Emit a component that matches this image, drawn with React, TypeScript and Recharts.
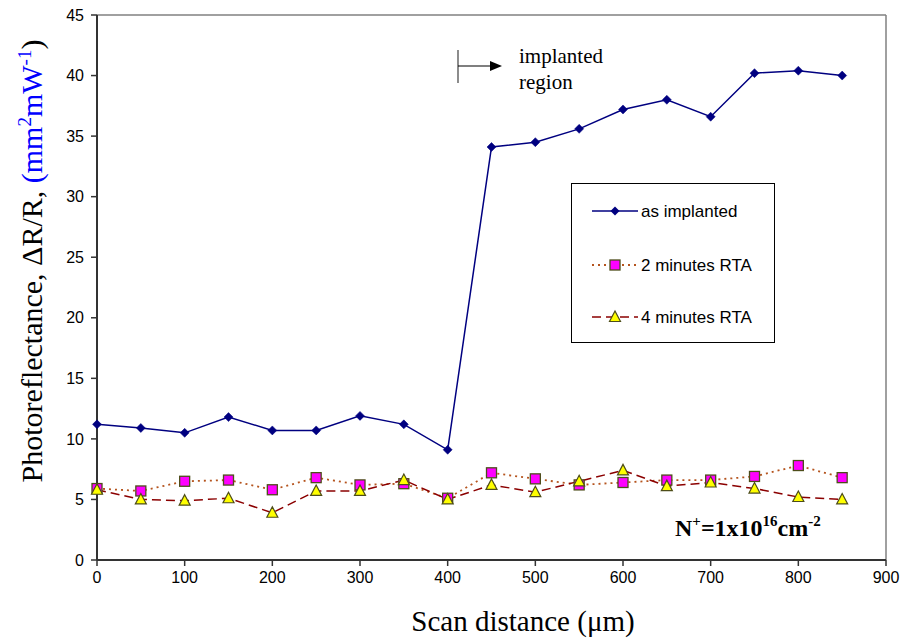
import React from 'react';
import { LineChart, Line, XAxis, YAxis, Legend, ReferenceLine, Customized } from 'recharts';

const scanDistance = [0, 50, 100, 150, 200, 250, 300, 350, 400, 450, 500, 550, 600, 650, 700, 750, 800, 850];
const asImplanted = [11.2, 10.9, 10.5, 11.8, 10.7, 10.7, 11.9, 11.2, 9.1, 34.1, 34.5, 35.6, 37.2, 38.0, 36.6, 40.2, 40.4, 40.0];
const rta2min = [5.9, 5.7, 6.5, 6.6, 5.8, 6.8, 6.2, 6.3, 5.1, 7.2, 6.7, 6.2, 6.4, 6.6, 6.6, 6.9, 7.8, 6.8];
const rta4min = [5.8, 5.0, 4.9, 5.1, 3.9, 5.7, 5.7, 6.6, 5.0, 6.2, 5.6, 6.5, 7.4, 6.1, 6.4, 5.9, 5.2, 5.0];
const seriesNames = ['as implanted', '2 minutes RTA', '4 minutes RTA'];
const xTicks = [0, 100, 200, 300, 400, 500, 600, 700, 800, 900];
const yTicks = [0, 5, 10, 15, 20, 25, 30, 35, 40, 45];

const data = scanDistance.map((x, i) => ({ x, a: asImplanted[i], b: rta2min[i], c: rta4min[i] }));

const NAVY = '#000080';
const DOT_STROKE = '#4D4D1A';
const C2 = '#B5541E';
const C4 = '#8B0000';
const SERIF = 'Liberation Serif, Times New Roman, serif';

const diamondPath = (cx: number, cy: number, r: number) =>
  `M${cx},${cy - r}L${cx + r},${cy}L${cx},${cy + r}L${cx - r},${cy}Z`;
const trianglePath = (cx: number, cy: number) =>
  `M${cx},${cy - 6}L${cx + 5.5},${cy + 4.5}L${cx - 5.5},${cy + 4.5}Z`;

const Diamond = (p: any) => {
  const { cx, cy, index } = p;
  if (cx == null || cy == null) return <g key={`d${index}`} />;
  return <path key={`d${index}`} d={diamondPath(cx, cy, 4.5)} fill={NAVY} stroke={NAVY} strokeWidth={0.5} />;
};
const Square = (p: any) => {
  const { cx, cy, index } = p;
  if (cx == null || cy == null) return <g key={`s${index}`} />;
  return <rect key={`s${index}`} x={cx - 5} y={cy - 5} width={10} height={10} fill="#FF00FF" stroke={DOT_STROKE} strokeWidth={1.3} />;
};
const Triangle = (p: any) => {
  const { cx, cy, index } = p;
  if (cx == null || cy == null) return <g key={`t${index}`} />;
  return <path key={`t${index}`} d={trianglePath(cx, cy)} fill="#FFFF00" stroke={DOT_STROKE} strokeWidth={1.2} />;
};

const ORDER: Record<string, number> = { a: 0, b: 1, c: 2 };

const LegendBox = (props: any) => {
  const payload = [...(props.payload || [])].sort(
    (p: any, q: any) => (ORDER[p.dataKey] ?? 9) - (ORDER[q.dataKey] ?? 9)
  );
  const rowsY = [27, 81, 133];
  return (
    <div style={{ width: 204, height: 160, border: '1px solid #000', background: '#fff', boxSizing: 'border-box' }}>
      <svg width={202} height={158} style={{ display: 'block' }}>
        {payload.map((e: any, i: number) => {
          const y = rowsY[i];
          const k = e.dataKey;
          let line: any = null;
          let marker: any = null;
          if (k === 'a') {
            line = <line x1={20} x2={66} y1={y} y2={y} stroke={NAVY} strokeWidth={1.5} />;
            marker = <path d={diamondPath(43, y, 4.5)} fill={NAVY} />;
          } else if (k === 'b') {
            line = <line x1={20} x2={66} y1={y} y2={y} stroke={C2} strokeWidth={1.8} strokeDasharray="2 4" />;
            marker = <rect x={38} y={y - 5} width={10} height={10} fill="#FF00FF" stroke={DOT_STROKE} strokeWidth={1.3} />;
          } else {
            line = <line x1={20} x2={66} y1={y} y2={y} stroke={C4} strokeWidth={1.5} strokeDasharray="9 5" />;
            marker = <path d={trianglePath(43, y)} fill="#FFFF00" stroke={DOT_STROKE} strokeWidth={1.2} />;
          }
          return (
            <g key={k}>
              {line}
              {marker}
              <text x={69} y={y + 6} fontFamily="Liberation Sans, Arial, sans-serif" fontSize={17} fill="#000">
                {e.value}
              </text>
            </g>
          );
        })}
      </svg>
    </div>
  );
};

const Extras = () => (
  <g>
    {/* annotation */}
    <line x1={458} x2={458} y1={50} y2={83} stroke="#404040" strokeWidth={1.2} />
    <line x1={458} x2={491} y1={66} y2={66} stroke="#000" strokeWidth={1.2} />
    <path d="M490,61L502,66L490,71Z" fill="#000" />
    <text x={519} y={63} fontFamily={SERIF} fontSize={21} fill="#000">implanted</text>
    <text x={519} y={89} fontFamily={SERIF} fontSize={21} fill="#000">region</text>
    {/* y label */}
    <text transform="translate(42,261) rotate(-90)" textAnchor="middle" fontFamily={SERIF} fontSize={30} fill="#000">
      <tspan>Photoreflectance, ΔR/R, </tspan>
      <tspan fill="#0000FF">(mm</tspan>
      <tspan fill="#0000FF" fontSize={19} dy={-11}>2</tspan>
      <tspan fill="#0000FF" dy={11}>mW</tspan>
      <tspan fill="#0000FF" fontSize={19} dy={-11}>-1</tspan>
      <tspan dy={11}>)</tspan>
    </text>
    {/* x label */}
    <text x={523} y={631} textAnchor="middle" fontFamily={SERIF} fontSize={29} fill="#000">
      Scan distance (μm)
    </text>
    {/* dose */}
    <text x={675} y={536} fontFamily={SERIF} fontSize={24} fontWeight="bold" fill="#000">
      <tspan>N</tspan>
      <tspan fontSize={15} dy={-10}>+</tspan>
      <tspan dy={10}>=1x10</tspan>
      <tspan fontSize={15} dy={-10}>16</tspan>
      <tspan dy={10}>cm</tspan>
      <tspan fontSize={15} dy={-10}>-2</tspan>
    </text>
  </g>
);

const tickStyle = { fill: '#000', fontFamily: 'Liberation Sans, Arial, sans-serif', fontSize: 16 };

export default function App() {
  return (
    <div style={{ position: 'absolute', left: 0, top: 0, width: 905, height: 641, background: '#fff' }}>
      <LineChart width={905} height={641} data={data} margin={{ top: 15, right: 19, bottom: 0, left: 0 }}>
        <XAxis
          dataKey="x"
          type="number"
          domain={[0, 900]}
          ticks={xTicks}
          height={81}
          axisLine={{ stroke: '#333', strokeWidth: 2 }}
          tickLine={{ stroke: '#333', strokeWidth: 1.5 }}
          tickSize={6}
          tickMargin={6}
          tick={tickStyle}
        />
        <YAxis
          type="number"
          domain={[0, 45]}
          ticks={yTicks}
          width={97}
          axisLine={{ stroke: '#333', strokeWidth: 2 }}
          tickLine={{ stroke: '#333', strokeWidth: 1.5 }}
          tickSize={6}
          tickMargin={7}
          tick={tickStyle}
        />
        <ReferenceLine y={45} stroke="#808080" strokeWidth={1.5} />
        <ReferenceLine x={900} stroke="#808080" strokeWidth={1.5} />
        <Line type="linear" dataKey="a" name={seriesNames[0]} stroke={NAVY} strokeWidth={1.5} dot={Diamond} isAnimationActive={false} />
        <Line type="linear" dataKey="b" name={seriesNames[1]} stroke={C2} strokeWidth={1.8} strokeDasharray="2 4" dot={Square} isAnimationActive={false} />
        <Line type="linear" dataKey="c" name={seriesNames[2]} stroke={C4} strokeWidth={1.5} strokeDasharray="9 5" dot={Triangle} isAnimationActive={false} />
        <Legend
          layout="vertical"
          align="center"
          verticalAlign="middle"
          content={<LegendBox />}
          wrapperStyle={{ position: 'absolute', left: 571, top: 183, width: 204, height: 160 }}
        />
        <Customized component={Extras} />
      </LineChart>
    </div>
  );
}
